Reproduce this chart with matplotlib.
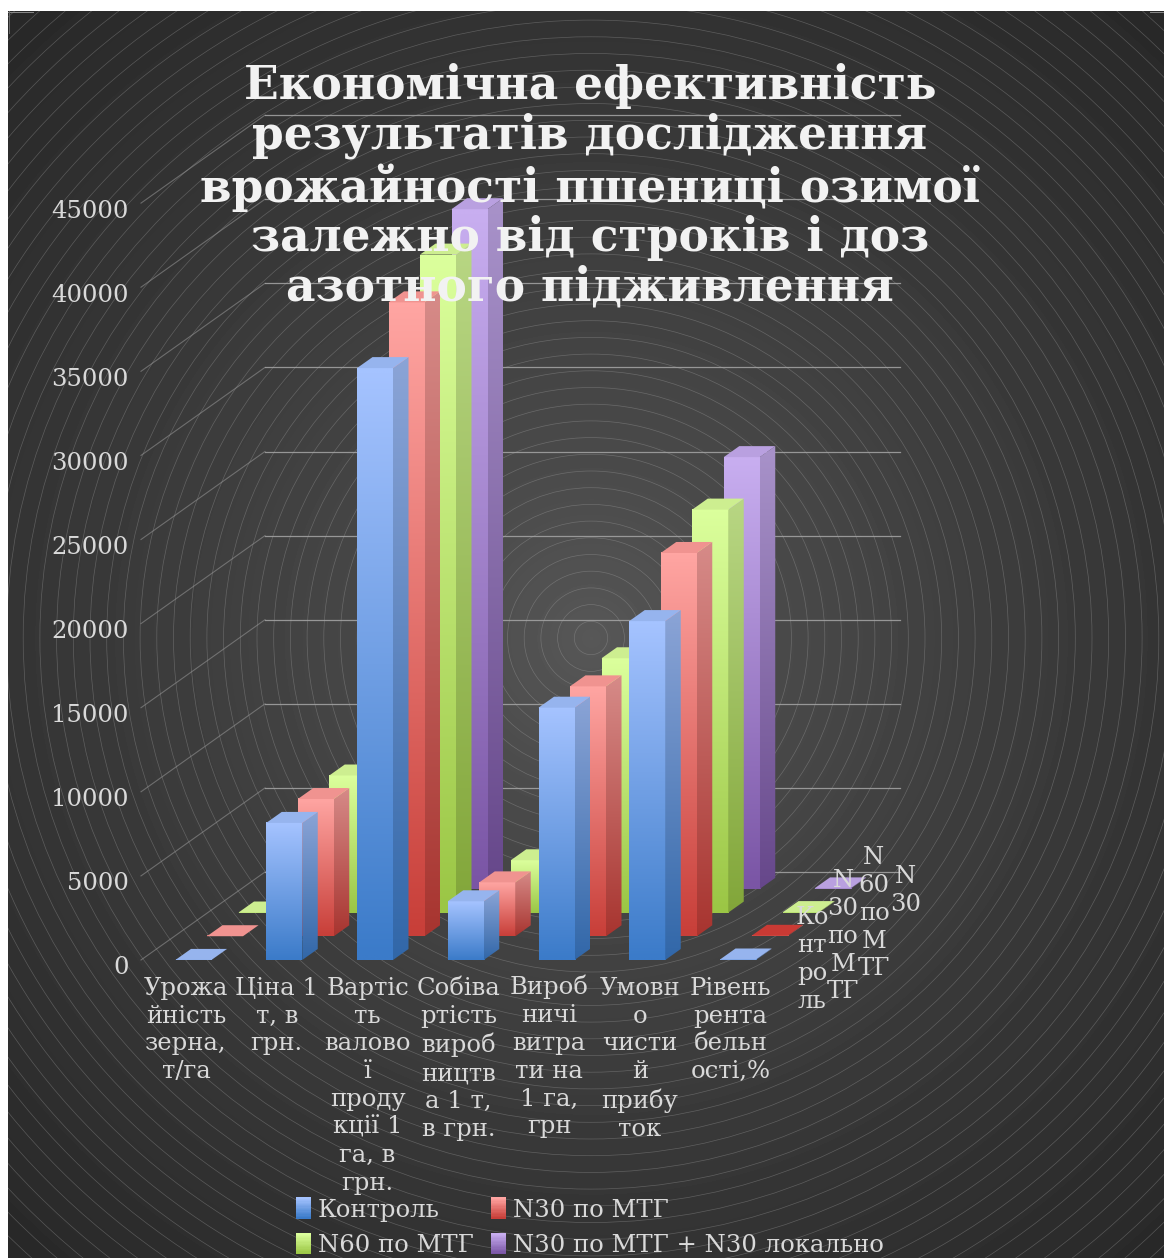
import numpy as np
import matplotlib
matplotlib.use("Agg")
import matplotlib.pyplot as plt
from matplotlib.legend_handler import HandlerBase
from matplotlib.patches import Circle, Patch, Polygon, Rectangle
from matplotlib.transforms import Affine2D

# ---------- data ----------
categories = [
    "Урожа\nйність\nзерна,\nт/га",
    "Ціна 1\nт, в\nгрн.",
    "Вартіс\nть\nвалово\nї\nпроду\nкції 1\nга, в\nгрн.",
    "Собіва\nртість\nвироб\nництв\nа 1 т,\nв грн.",
    "Вироб\nничі\nвитра\nти на\n1 га,\nгрн",
    "Умовн\nо\nчисти\nй\nприбу\nток",
    "Рівень\nрента\nбельн\nості,%",
]
series_names = ["Контроль", "N30 по МТГ", "N60 по МТГ", "N30 по МТГ + N30 локально"]
control = [5, 8150, 35190, 3490, 15000, 20150, 30]
n30 = [5, 8160, 37690, 3205, 14860, 22790, 30]
n60 = [5, 8150, 39120, 3110, 15120, 23960, 30]
n30_local = [5, 8150, 40410, 3020, 15300, 25670, 30]
value_ticks = list(range(0, 45001, 5000))
depth_labels = ["Ко\nнт\nро\nль", "N\n30\nпо\nМ\nТГ", "N\n60\nпо\nМ\nТГ", "N\n30"]
title = ("Економічна ефективність\nрезультатів дослідження\n"
         "врожайності пшениці озимої\nзалежно від строків і доз\n"
         "азотного підживлення")

# ---------- styling ----------
W, H = 1164, 1258
FONT = "DejaVu Serif"
TEXT = "#D9D9D9"
LABEL_SIZE = 17.5
LINE_GAP = 1.27
plt.rcParams["font.family"] = FONT

# light (top) and dark (bottom) ends of each series' gradient, then its cap colour
palettes = [
    ("#A5C3FF", "#3B7BC9", "#96B4EE"),
    ("#FFA5A2", "#C83F39", "#F09390"),
    ("#DBFF9C", "#9BC645", "#CDEE90"),
    ("#C8AEF0", "#7A55A5", "#B9A0E0"),
]
cap_overrides = {(1, 6): "#C93A34"}   # (row, category) -> cap colour
all_series = [control, n30, n60, n30_local]

STEP_X, STEP_Y = 31.5, 23.7      # pixel shift between depth rows
SIDE_X, SIDE_Y = 15.5, 11.0      # pixel depth of one bar
BAR_PX = 36.0
CAT_PX = 90.75
X0_PX, X1_PX = 141.0, 1000.0     # plot frame, left and right
Y0_PX, Y1_PX = 960.0, 119.0      # plot frame, bottom and top
TICK0_PX = 186.0                 # pixel centre of the first category label
WALL_DX, WALL_DY = 124.0, 88.0   # floor depth of the side wall
WALL_RIGHT_PX = 900.0


def hex_rgb(c):
    return np.array(matplotlib.colors.to_rgb(c))


def ramp(top, bottom, shade=1.0, n=64):
    t = np.linspace(0, 1, n)[:, None]
    return ((1 - t) * hex_rgb(top) + t * hex_rgb(bottom))[:, None, :] * shade


fig = plt.figure(figsize=(W / 100, H / 100), dpi=100, facecolor="white")

# ---------- backdrop: radial shading with concentric hairlines ----------
bg = fig.add_axes([0, 0, 1, 1], zorder=0)
bg.set_xlim(0, W)
bg.set_ylim(H, 0)
bg.axis("off")
cx, cy = 591.0, 638.0
yy, xx = np.mgrid[11:H, 8:W]
rr = np.hypot(xx - cx, yy - cy) / 860.0
level = np.clip(0.345 - 0.19 * np.clip(rr, 0, 1) ** 0.8, 0, 1)
bg.imshow(level, cmap="gray", vmin=0, vmax=1, extent=(8, W, H, 11),
          aspect="auto", interpolation="bilinear")
panel = Rectangle((8, 11), W - 8, H - 11, transform=bg.transData, fc="none", ec="none")
bg.add_patch(panel)
for radius in np.arange(16.7, 1000, 16.7):
    ring = Circle((cx, cy), radius, fill=False, ec="#A8A8A8", lw=0.5, alpha=0.36)
    bg.add_patch(ring)
    ring.set_clip_path(panel)
# short hairlines left at the panel's upper corners
bg.plot([8, 33], [11.5, 11.5], color="#8A8A8A", lw=0.7)
bg.plot([8.5, 8.5], [11, 33], color="#6A6A6A", lw=0.7)
bg.plot([1150, W], [11.5, 11.5], color="#8A8A8A", lw=0.7)
bg.set_xlim(0, W)
bg.set_ylim(H, 0)

# ---------- plot frame: value axis and category axis ----------
ax = fig.add_axes([X0_PX / W, 1 - Y0_PX / H, (X1_PX - X0_PX) / W, (Y0_PX - Y1_PX) / H],
                  zorder=1)
ax.patch.set_alpha(0)
ax.set_xlim((X0_PX - TICK0_PX) / CAT_PX, (X1_PX - TICK0_PX) / CAT_PX)
ax.set_ylim(0, 50000)
for spine in ax.spines.values():
    spine.set_visible(False)
ax.set_xticks(range(len(categories)))
ax.set_xticklabels(categories, fontsize=LABEL_SIZE, color=TEXT, linespacing=LINE_GAP)
ax.set_yticks(value_ticks)
ax.set_yticklabels([str(v) for v in value_ticks], fontsize=LABEL_SIZE, color=TEXT)
ax.tick_params(axis="both", length=0)
ax.tick_params(axis="x", pad=12)
ax.tick_params(axis="y", pad=9)
for lab in ax.get_yticklabels():
    lab.set_transform(lab.get_transform() + Affine2D().translate(0, -5.5))
# this first line has both a tall letter and a descender, which pushes it down a little
tall = ax.get_xticklabels()[4]
tall.set_transform(tall.get_transform() + Affine2D().translate(0, 2))

# back-wall and side-wall grid, laid out in display pixels from each value's height
for v in value_ticks:
    y_px = ax.transData.transform((0, v))[1]
    wall_y = y_px + WALL_DY
    ax.plot([X0_PX, X0_PX + WALL_DX], [y_px, wall_y], transform=Affine2D(),
            color="#9A9A9A", lw=0.8, alpha=0.55, zorder=1, clip_on=False)
    ax.plot([X0_PX + WALL_DX, WALL_RIGHT_PX], [wall_y, wall_y], transform=Affine2D(),
            color="#A6A6A6", lw=0.9, alpha=0.85, zorder=1, clip_on=False)

# ---------- bars ----------
bar_w = BAR_PX / CAT_PX
bar_off = (175.5 - TICK0_PX) / CAT_PX
units_per_px = 50000 / (Y0_PX - Y1_PX)
side_w = SIDE_X / CAT_PX
side_h = SIDE_Y * units_per_px
z = 10


def draw_bar(i, v, row_tf, top, bottom, cap):
    """One box: front face, side face and cap, all in the row's shifted data space."""
    global z
    x0 = i + bar_off
    x1 = x0 + bar_w
    x2 = x1 + side_w
    # front face
    ax.imshow(ramp(top, bottom), extent=(x0, x1, 0, v), aspect="auto", transform=row_tf,
              zorder=z, interpolation="bilinear", clip_on=False)
    # side face, a vertical ramp cut down to a parallelogram
    side = Polygon([(x1, 0), (x2, side_h), (x2, v + side_h), (x1, v)], closed=True,
                   transform=row_tf, fc="none", ec="none")
    ax.add_patch(side)
    im = ax.imshow(ramp(top, bottom, 0.84), extent=(x1, x2, 0, v + side_h), aspect="auto",
                   transform=row_tf, zorder=z + 1, interpolation="bilinear")
    im.set_clip_path(side)
    # cap
    ax.add_patch(Polygon([(x0, v), (x1, v), (x2, v + side_h), (x0 + side_w, v + side_h)],
                         closed=True, transform=row_tf, fc=cap, ec="none", zorder=z + 2,
                         clip_on=False))
    z += 3


for row in range(len(all_series) - 1, -1, -1):
    row_tf = ax.transData + Affine2D().translate(row * STEP_X, row * STEP_Y)
    top, bottom, cap = palettes[row]
    for i, v in enumerate(all_series[row]):
        draw_bar(i, v, row_tf, top, bottom, cap_overrides.get((row, i), cap))

ax.set_xlim((X0_PX - TICK0_PX) / CAT_PX, (X1_PX - TICK0_PX) / CAT_PX)
ax.set_ylim(0, 50000)

# depth-axis labels beside the last category
depth_pos = [(812, 906), (843, 869), (874, 846), (906, 865)]
for text, (lx, ly) in zip(depth_labels, depth_pos):
    fig.text(lx, H - ly, text, transform=Affine2D(), ha="center", va="top",
             multialignment="center", fontsize=LABEL_SIZE, color=TEXT, linespacing=LINE_GAP,
             zorder=5)

# ---------- title ----------
fig.text(590 / W, 1 - 187 / H, title, ha="center", va="center", multialignment="center",
         fontsize=32.8, fontweight="bold", color="#F2F2F2", linespacing=1.1, zorder=6)


# ---------- legend ----------
class GradientSwatch(HandlerBase):
    def create_artists(self, legend, orig, xd, yd, width, height, fontsize, trans):
        top, bottom = orig.get_facecolor(), orig.get_edgecolor()
        n = 16
        out = []
        for k in range(n):
            t = k / (n - 1)
            col = (1 - t) * np.array(top[:3]) + t * np.array(bottom[:3])
            out.append(Rectangle((-xd, -yd + height * (1 - (k + 1) / n)), width, height / n + 0.3,
                                 fc=col, ec="none", transform=trans))
        return out


handles = [Patch(fc=p[0], ec=p[1], label=name) for p, name in zip(palettes, series_names)]
# the legend fills by column, so pair the entries to read across the rows
handles = [handles[0], handles[2], handles[1], handles[3]]
leg = fig.legend(handles=handles, ncol=2, frameon=False, fontsize=LABEL_SIZE, labelcolor=TEXT,
                 loc="upper left", bbox_to_anchor=(291 / W, 1 - 1193 / H),
                 handler_map={Patch: GradientSwatch()}, handlelength=0.61, handleheight=0.93,
                 handletextpad=0.3, columnspacing=0.72, labelspacing=0.5,
                 borderpad=0.2, borderaxespad=0)
leg.set_zorder(6)

fig.savefig("out.png", dpi=100, facecolor="white")
